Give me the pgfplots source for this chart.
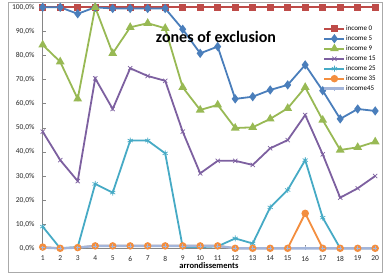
\documentclass[border=0pt]{standalone}
\usepackage{pgfplots}
\pgfplotsset{compat=1.18}
\usepackage{fontspec}
\setmainfont{Carlito}
\definecolor{cred}{HTML}{BE4B48}
\definecolor{cblue}{HTML}{4A7EBB}
\definecolor{cgreen}{HTML}{98B954}
\definecolor{cpurple}{HTML}{7D60A0}
\definecolor{caqua}{HTML}{46AAC5}
\definecolor{corange}{HTML}{F38E3F}
\definecolor{clight}{HTML}{A3B5DA}
\definecolor{caxis}{HTML}{868686}
\pgfplotsset{
  legend image code/.code={\draw[mark repeat=2,mark phase=2,#1] plot coordinates {(0pt,0pt) (10pt,0pt) (20pt,0pt)};}
}
\begin{document}
\begin{tikzpicture}
\useasboundingbox (0,0) rectangle (390pt,278pt);
\draw[caxis!70, line width=0.6pt] (8pt,6pt) rectangle (382pt,276pt);
\begin{axis}[
  at={(42.7pt,29.7pt)}, anchor=south west,
  scale only axis, width=332.5pt, height=241pt,
  xmin=1, xmax=20, ymin=0, ymax=100,
  xtick={1,...,20}, ytick={0,10,...,100},
  clip=false,
  axis x line*=bottom, axis y line*=left,
  axis line style={caxis, line width=0.7pt, -},
  tick style={caxis, line width=0.5pt},
  major tick length=3pt,
  /pgf/number format/assume math mode=true,
  ticklabel style={font=\fontsize{7.5}{8}\selectfont, text=black!85},
  yticklabel={\pgfmathprintnumber[fixed,fixed zerofill,precision=1,use comma]{\tick}\%},
  yticklabel style={anchor=east, inner sep=0pt, xshift=-8pt},
  xticklabel style={anchor=north, inner sep=0pt, yshift=-7.5pt},
  xlabel={arrondissements},
  xlabel style={at={(axis description cs:0.5,0)}, anchor=center, yshift=-17.5pt, font=\bfseries\fontsize{8.5}{9}\selectfont},
  legend style={at={(axis description cs:0.843,0.9266)}, anchor=north west, draw=none, fill=none,
    font=\fontsize{7}{8}\selectfont, row sep=3pt, inner sep=0pt,
    nodes={inner sep=0.5pt, text height=5pt, text depth=1pt}},
  legend cell align=left,
  every axis plot/.append style={line width=1.8pt},
]
\addplot[cred, mark=square*, mark size=2.8pt, mark options={solid, fill=cred}] coordinates {
(1,100)(2,100)(3,100)(4,100)(5,100)(6,100)(7,100)(8,100)(9,100)(10,100)
(11,100)(12,100)(13,100)(14,100)(15,100)(16,100)(17,100)(18,100)(19,100)(20,100)};
\addlegendentry{income 0}
\addplot[cblue, mark=diamond*, mark size=3.2pt, mark options={solid, fill=cblue}] coordinates {
(1,100)(2,100)(3,97.3)(4,100)(5,99.5)(6,99.5)(7,99.5)(8,99.5)(9,90.9)(10,80.9)
(11,83.7)(12,62)(13,62.9)(14,65.7)(15,67.8)(16,76.1)(17,65.4)(18,53.7)(19,57.8)(20,57)};
\addlegendentry{income 5}
\addplot[cgreen, mark=triangle*, mark size=3.3pt, mark options={solid, fill=cgreen}] coordinates {
(1,84.4)(2,77.4)(3,62)(4,100)(5,80.9)(6,91.7)(7,93.4)(8,91.3)(9,66.8)(10,57.4)
(11,59.5)(12,49.9)(13,50.2)(14,53.7)(15,58.1)(16,66.8)(17,53.2)(18,40.8)(19,41.9)(20,44.2)};
\addlegendentry{income 9}
\addplot[cpurple, mark=x, mark size=3pt, mark options={solid, line width=0.7pt}] coordinates {
(1,48.4)(2,36.6)(3,27.9)(4,70.5)(5,57.8)(6,74.7)(7,71.5)(8,69.5)(9,48.4)(10,31.1)
(11,36.3)(12,36.3)(13,34.6)(14,41.5)(15,44.9)(16,55.3)(17,39)(18,21)(19,24.9)(20,30)};
\addlegendentry{income 15}
\addplot[caqua, mark=asterisk, mark size=3pt, mark options={solid, line width=0.7pt}] coordinates {
(1,9)(2,0)(3,0.5)(4,26.7)(5,23.1)(6,44.7)(7,44.7)(8,39.4)(9,0.5)(10,0.5)
(11,0.8)(12,4.1)(13,2)(14,17)(15,24.2)(16,36.6)(17,12.7)(18,0)(19,0)(20,0)};
\addlegendentry{income 25}
\addplot[corange, mark=*, mark size=2.8pt, mark options={solid, fill=corange}] coordinates {
(1,0.5)(2,0)(3,0.3)(4,1)(5,1)(6,1)(7,1)(8,1)(9,1)(10,1)
(11,1)(12,0)(13,0)(14,0)(15,0)(16,14.5)(17,0)(18,0)(19,0)(20,0)};
\addlegendentry{income 35}
\addplot[clight, line width=2.4pt, mark=+, mark size=2pt, mark options={solid, line width=0.6pt}] coordinates {
(1,0.3)(2,0)(3,0.3)(4,1)(5,1)(6,1)(7,1)(8,1)(9,1)(10,1)
(11,1)(12,0)(13,0)(14,0)(15,0)(16,0)(17,0)(18,0)(19,0)(20,0)};
\addlegendentry{income45}
\end{axis}
\node[font=\bfseries\fontsize{16}{18}\selectfont] at (216pt,241.3pt) {zones of exclusion};
\end{tikzpicture}
\end{document}
